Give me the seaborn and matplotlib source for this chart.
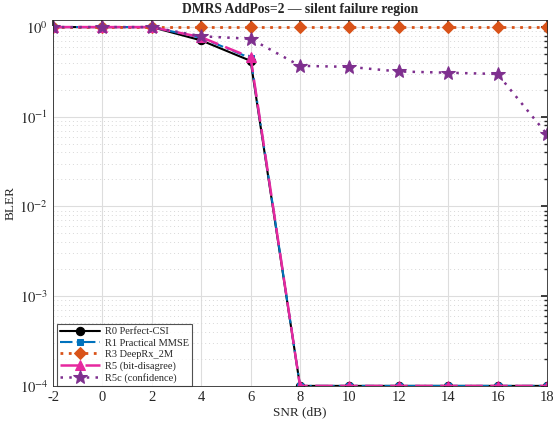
import numpy as np
import pandas as pd
import seaborn as sns
import matplotlib
matplotlib.use("Agg")
import matplotlib.pyplot as plt
from matplotlib.ticker import LogLocator, FixedLocator, NullFormatter, FuncFormatter

snr = [-2, 0, 2, 4, 6, 8, 10, 12, 14, 16, 18]
r0 = [1, 1, 1, 0.71, 0.42, 1e-4, 1e-4, 1e-4, 1e-4, 1e-4, 1e-4]
r1 = [1, 1, 1, 0.76, 0.45, 1e-4, 1e-4, 1e-4, 1e-4, 1e-4, 1e-4]
r3 = [1, 1, 1, 1, 1, 1, 1, 1, 1, 1, 1]
r5 = [1, 1, 1, 0.77, 0.46, 1e-4, 1e-4, 1e-4, 1e-4, 1e-4, 1e-4]
r5c = [1, 1, 1, 0.79, 0.74, 0.37, 0.36, 0.32, 0.31, 0.30, 0.064]
labels = ["R0 Perfect-CSI", "R1 Practical MMSE", "R3 DeepRx_2M", "R5 (bit-disagree)", "R5c (confidence)"]

sns.set_theme(style="white")
plt.rcParams['font.family'] = ['Liberation Serif', 'DejaVu Serif']
plt.rcParams['mathtext.fontset'] = 'stix'
plt.rcParams['axes.unicode_minus'] = False

fig, ax = plt.subplots(figsize=(5.53, 4.25), dpi=100)
fig.subplots_adjust(left=0.096, right=0.989, top=0.953, bottom=0.092)

series = [r0, r1, r3, r5, r5c]
styles = [
    dict(color="black", linestyle="-", marker="o", ms=6, lw=1.5),
    dict(color="#0072BD", linestyle=(0, (6, 2, 1, 2)), marker="s", ms=5, lw=1.5),
    dict(color="#D95319", linestyle=(0, (1, 2)), marker="D", ms=6, lw=2),
    dict(color="#E6289F", linestyle=(0, (7, 3)), marker="^", ms=7, lw=1.8),
    dict(color="#7E2F8E", linestyle=(0, (1, 2.5)), marker="*", ms=10, lw=1.8),
]
for vals, lab, st in zip(series, labels, styles):
    df = pd.DataFrame({"SNR": snr, "BLER": vals})
    sns.lineplot(data=df, x="SNR", y="BLER", ax=ax, label=lab,
                 color=st["color"], linestyle=st["linestyle"], marker=st["marker"],
                 markersize=st["ms"], linewidth=st["lw"], markeredgecolor=st["color"])

ax.set_yscale("log")
ax.set_ylim(1e-4, 1.2)
ax.set_xlim(-2, 18)
ax.xaxis.set_major_locator(FixedLocator(snr))
ax.xaxis.set_major_formatter(FuncFormatter(lambda v, p: "%d" % v))
ax.yaxis.set_major_locator(LogLocator(base=10, numticks=10))
ax.yaxis.set_major_formatter(FuncFormatter(lambda v, p: r"$10^{\mathrm{%d}}$" % round(np.log10(v))))
ax.yaxis.set_minor_locator(LogLocator(base=10, subs=np.arange(2, 10), numticks=20))
ax.yaxis.set_minor_formatter(NullFormatter())
ax.grid(True, which="major", color="#dddddd", linewidth=0.8)
ax.grid(True, which="minor", axis="y", color="#d8d8d8", linestyle=(0, (1, 3)), linewidth=0.7)
ax.tick_params(which="both", direction="in", top=True, right=True, labelsize=10.5, colors="#262626")
ax.tick_params(which="major", length=4)
ax.tick_params(which="minor", length=2)
for s in ax.spines.values():
    s.set_color("#262626")
    s.set_linewidth(0.6)
ax.set_xlabel("SNR (dB)", fontsize=9.5, labelpad=2)
ax.set_ylabel("BLER", fontsize=9.5, labelpad=2)
ax.set_title("DMRS AddPos=2 — silent failure region", fontsize=9.8, fontweight="bold", pad=5)
leg = ax.legend(loc="lower left", fontsize=7.5, frameon=True, fancybox=False,
                edgecolor="#262626", borderpad=0.3, labelspacing=0.2, handlelength=3.8,
                handletextpad=0.5, borderaxespad=0.0, bbox_to_anchor=(0.008, 0.0))
leg.get_frame().set_linewidth(0.8)
fig.savefig("out.png", dpi=100)
